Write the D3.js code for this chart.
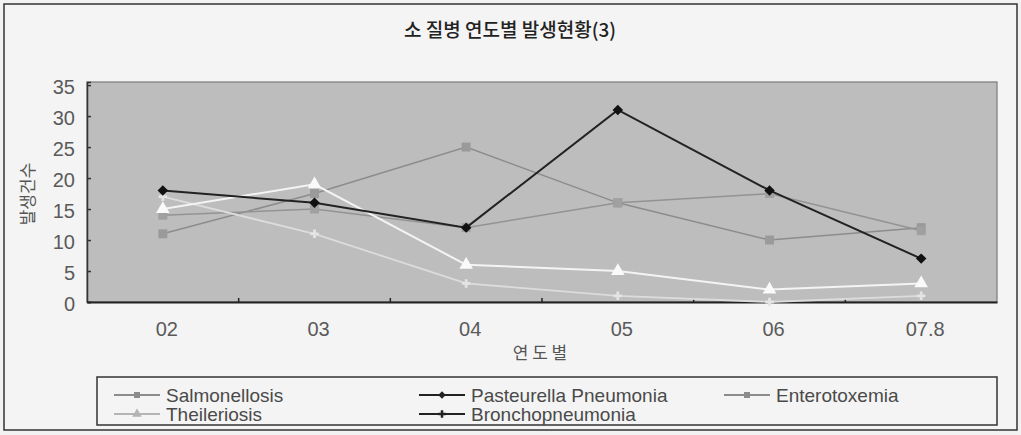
<!DOCTYPE html>
<html><head><meta charset="utf-8">
<script src="https://cdn.jsdelivr.net/npm/d3@7"></script>
<style>body{margin:0;background:#f2f2f2} svg{display:block}</style></head>
<body>
<svg id="chart" width="1021" height="435"></svg>
<script>
const categories = ["02", "03", "04", "05", "06", "07.8"];
const salmonellosis = [11, 17.5, 25, 16, 10, 12];
const pasteurella = [18, 16, 12, 31, 18, 7];
const enterotoxemia = [14, 15, 12, 16, 17.5, 11.5];
const theileriosis = [15, 19, 6, 5, 2, 3];
const bronchopneumonia = [17, 11, 3, 1, 0, 1];
const yTicks = [0, 5, 10, 15, 20, 25, 30, 35];
const seriesNames = ["Salmonellosis", "Pasteurella Pneumonia", "Enterotoxemia", "Theileriosis", "Bronchopneumonia"];
const titleText = "소 질병 연도별 발생현황(3)";
const yTitle = "발생건수";
const xTitle = "연 도 별";

const svg = d3.select("#chart");
const latin = "'Liberation Sans', Arial, sans-serif";
const kor = "'Noto Sans CJK KR', sans-serif";

const plot = {left: 87, right: 997, top: 82, bottom: 302};
const x = d3.scaleBand().domain(categories).range([plot.left, plot.right]);
const y = d3.scaleLinear().domain([0, 35.5]).range([plot.bottom, plot.top]);
const px = c => x(c) + x.bandwidth() / 2;

// outer frame
svg.append("rect").attr("x", 4).attr("y", 4).attr("width", 1013).attr("height", 426)
  .attr("fill", "#f4f4f4").attr("stroke", "#333").attr("stroke-width", 1.5);

// title
svg.append("text").attr("x", 510).attr("y", 37).attr("text-anchor", "middle")
  .attr("font-family", kor).attr("font-size", 19).attr("font-weight", 500).attr("fill", "#222")
  .text(titleText);

// plot background
svg.append("rect").attr("x", plot.left).attr("y", plot.top)
  .attr("width", plot.right - plot.left).attr("height", plot.bottom - plot.top)
  .attr("fill", "#bdbdbd").attr("stroke", "#7a7a7a").attr("stroke-width", 1.2);

// y axis
const yAxis = d3.axisLeft(y).tickValues(yTicks).tickSize(-4).tickPadding(12);
const gy = svg.append("g").attr("transform", `translate(${plot.left},0)`).call(yAxis);
gy.select(".domain").attr("stroke", "#333").attr("stroke-width", 1.5);
gy.selectAll(".tick line").attr("stroke", "#333").attr("stroke-width", 1.5);
gy.selectAll(".tick text").attr("font-family", latin).attr("font-size", 20).attr("fill", "#5a5a5a").attr("dy", "0.4em");

// x axis
const xAxis = d3.axisBottom(x).tickSize(0).tickPadding(20);
const gx = svg.append("g").attr("transform", `translate(0,${plot.bottom})`).call(xAxis);
gx.select(".domain").attr("stroke", "#222").attr("stroke-width", 2);
gx.selectAll(".tick text").attr("font-family", latin).attr("font-size", 20).attr("fill", "#5a5a5a").attr("dx", 4);
// inward boundary ticks between categories
svg.append("g").selectAll("line").data(categories.slice(1)).join("line")
  .attr("x1", d => x(d)).attr("x2", d => x(d))
  .attr("y1", plot.bottom).attr("y2", plot.bottom - 4)
  .attr("stroke", "#222").attr("stroke-width", 1.5);

// axis titles
svg.append("text").attr("transform", `translate(34,${(plot.top + plot.bottom) / 2 + 2}) rotate(-90)`)
  .attr("text-anchor", "middle").attr("font-family", kor).attr("font-size", 17).attr("fill", "#555")
  .text(yTitle);
svg.append("text").attr("x", 540).attr("y", 359).attr("text-anchor", "middle")
  .attr("font-family", kor).attr("font-size", 17).attr("fill", "#555")
  .text(xTitle);

// series
const series = [
  {name: seriesNames[0], values: salmonellosis, color: "#8c8c8c", mcolor: "#9a9a9a", marker: "square", lw: 1.5},
  {name: seriesNames[2], values: enterotoxemia, color: "#939393", mcolor: "#a0a0a0", marker: "square", lw: 1.5},
  {name: seriesNames[4], values: bronchopneumonia, color: "#dcdcdc", mcolor: "#e4e4e4", marker: "plus", lw: 1.8},
  {name: seriesNames[3], values: theileriosis, color: "#f4f4f4", mcolor: "#fafafa", marker: "triangle", lw: 2},
  {name: seriesNames[1], values: pasteurella, color: "#222", mcolor: "#111", marker: "diamond", lw: 2}
];
const symbols = {
  square: d3.symbol().type(d3.symbolSquare).size(80),
  diamond: d3.symbol().type(d3.symbolDiamond2).size(70),
  triangle: d3.symbol().type(d3.symbolTriangle).size(80),
  plus: d3.symbol().type(d3.symbolCross).size(40)
};
const line = d3.line().x(d => px(d.c)).y(d => y(d.v));

series.forEach(s => {
  const pts = categories.map((c, i) => ({c, v: s.values[i]}));
  svg.append("path").datum(pts).attr("d", line).attr("fill", "none")
    .attr("stroke", s.color).attr("stroke-width", s.lw);
  svg.append("g").selectAll("path").data(pts).join("path")
    .attr("d", symbols[s.marker]())
    .attr("transform", d => `translate(${px(d.c)},${y(d.v)})`)
    .attr("fill", s.mcolor);
});

// legend
const legendBox = {x: 97, y: 377, w: 900, h: 48};
svg.append("rect").attr("x", legendBox.x).attr("y", legendBox.y)
  .attr("width", legendBox.w).attr("height", legendBox.h)
  .attr("fill", "#f4f4f4").attr("stroke", "#333").attr("stroke-width", 1.5);
const legendItems = [
  {name: seriesNames[0], color: "#8c8c8c", marker: "square", col: 0, row: 0},
  {name: seriesNames[1], color: "#222", marker: "diamond", col: 1, row: 0},
  {name: seriesNames[2], color: "#8c8c8c", marker: "square", col: 2, row: 0},
  {name: seriesNames[3], color: "#b4b4b4", marker: "triangle", col: 0, row: 1},
  {name: seriesNames[4], color: "#222", marker: "plus", col: 1, row: 1}
];
const colX = [114, 419, 724];
const rowY = [395, 414];
const lsym = {
  square: d3.symbol().type(d3.symbolSquare).size(36),
  diamond: d3.symbol().type(d3.symbolDiamond2).size(36),
  triangle: d3.symbol().type(d3.symbolTriangle).size(40),
  plus: d3.symbol().type(d3.symbolCross).size(30)
};
const lg = svg.append("g").selectAll("g").data(legendItems).join("g")
  .attr("transform", d => `translate(${colX[d.col]},${rowY[d.row]})`);
lg.append("line").attr("x1", 0).attr("x2", 46).attr("y1", 0).attr("y2", 0)
  .attr("stroke", d => d.color).attr("stroke-width", 1.8);
lg.append("path").attr("d", d => lsym[d.marker]()).attr("transform", "translate(23,0)")
  .attr("fill", d => d.color);
lg.append("text").attr("x", 52).attr("y", 0).attr("dy", "0.36em")
  .attr("font-family", latin).attr("font-size", 19).attr("fill", "#4a4a4a")
  .text(d => d.name);
</script>
</body></html>
